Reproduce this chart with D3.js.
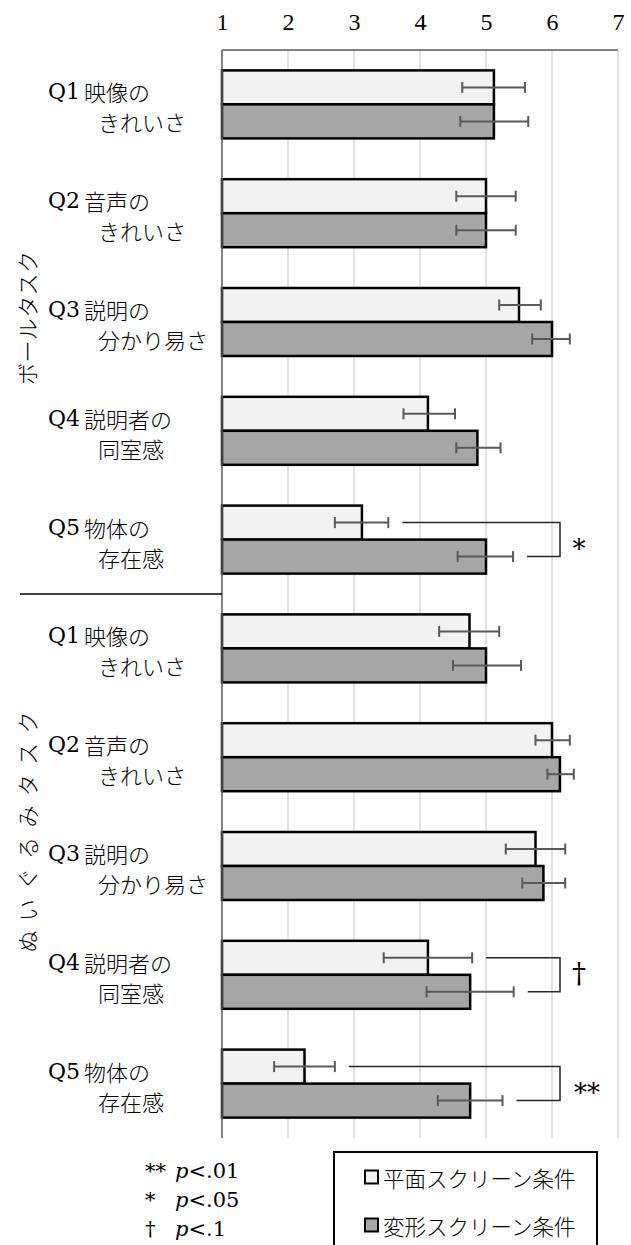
<!DOCTYPE html>
<html>
<head>
<meta charset="utf-8">
<script src="https://cdn.jsdelivr.net/npm/d3@7"></script>
<style>
  body { margin: 0; background: #fff; }
  text { font-family: "Noto Sans CJK JP", sans-serif; fill: #000; }
  .jp { font-weight: 300; }
  .latin { font-family: "DejaVu Serif", serif; font-weight: normal; }
</style>
</head>
<body>
<div id="chart-area"></div>
<script>
const canvas_width = 631;
const canvas_height = 1245;

// data
const tasks = ['ボールタスク', 'ぬいぐるみタスク'];
const question_ids = ['Q1', 'Q2', 'Q3', 'Q4', 'Q5'];
const question_line1 = ['映像の', '音声の', '説明の', '説明者の', '物体の'];
const question_line2 = ['きれいさ', 'きれいさ', '分かり易さ', '同室感', '存在感'];
const series_names = ['平面スクリーン条件', '変形スクリーン条件'];

const flat_mean   = [5.12, 5.0, 5.5, 4.12, 3.12, 4.75, 6.0, 5.75, 4.12, 2.25];
const flat_low    = [4.64, 4.55, 5.2, 3.75, 2.71, 4.29, 5.75, 5.3, 3.45, 1.79];
const flat_high   = [5.59, 5.45, 5.83, 4.53, 3.52, 5.2, 6.27, 6.2, 4.79, 2.71];
const deform_mean = [5.12, 5.0, 6.0, 4.87, 5.0, 5.0, 6.12, 5.87, 4.76, 4.76];
const deform_low  = [4.61, 4.55, 5.7, 4.55, 4.57, 4.5, 5.93, 5.55, 4.1, 4.27];
const deform_high = [5.64, 5.45, 6.27, 5.22, 5.41, 5.53, 6.33, 6.2, 5.42, 5.25];
const sig_labels  = ['', '', '', '', '*', '', '', '', '†', '**'];

const x_ticks = [1, 2, 3, 4, 5, 6, 7];
const note_marks = ['**', '*', '†'];
const note_values = ['.01', '.05', '.1'];

// layout
const plot = { left: 222, right: 618, top: 50, bottom: 1138 };
const colors = { flat: '#f2f2f2', deform: '#a6a6a6', err: '#595959', grid: '#d9d9d9', axis: '#595959' };

let rows = [];
tasks.forEach((t, ti) => {
    question_ids.forEach((q, qi) => {
        let i = ti * question_ids.length + qi;
        rows.push({
            key: 'r' + i, task: t, id: q, line1: question_line1[qi], line2: question_line2[qi], sig: sig_labels[i],
            bars: [
                { series: 'flat', mean: flat_mean[i], low: flat_low[i], high: flat_high[i] },
                { series: 'deform', mean: deform_mean[i], low: deform_low[i], high: deform_high[i] }
            ]
        });
    });
});

let canvas = d3.select('#chart-area').append('svg')
    .attr('width', canvas_width)
    .attr('height', canvas_height)
    .style('background', '#fff');

let x = d3.scaleLinear().domain([1, 7]).range([plot.left, plot.right]);

let y = d3.scaleBand()
    .domain(rows.map((d) => d.key))
    .range([plot.top, plot.bottom])
    .paddingInner(0.375)
    .paddingOuter(0.1875);

let ySeries = d3.scaleBand()
    .domain(['flat', 'deform'])
    .range([0, y.bandwidth()]);

// gridlines
canvas.append('g').selectAll('line')
    .data(x_ticks.slice(1))
    .enter().append('line')
    .attr('x1', (d) => x(d)).attr('x2', (d) => x(d))
    .attr('y1', plot.top).attr('y2', plot.bottom)
    .attr('stroke', colors.grid)
    .attr('stroke-width', 1.5);

// top axis
let topAxis = d3.axisTop(x).tickValues(x_ticks).tickSize(0).tickPadding(20).tickFormat(d3.format('d'));
let topG = canvas.append('g')
    .attr('transform', `translate(0, ${plot.top})`)
    .call(topAxis);
topG.select('.domain').remove();
topG.selectAll('text').attr('font-size', '24px').style('font-family', '"Liberation Serif", serif');

canvas.append('line')
    .attr('x1', plot.left).attr('x2', plot.right)
    .attr('y1', plot.top).attr('y2', plot.top)
    .attr('stroke', colors.axis).attr('stroke-width', 1.5);

// bars
let groups = canvas.append('g').selectAll('g')
    .data(rows)
    .enter().append('g')
    .attr('transform', (d) => `translate(0, ${y(d.key)})`);

groups.selectAll('rect')
    .data((d) => d.bars)
    .enter().append('rect')
    .attr('x', x(1))
    .attr('y', (d) => ySeries(d.series))
    .attr('width', (d) => x(d.mean) - x(1))
    .attr('height', ySeries.bandwidth())
    .attr('fill', (d) => colors[d.series])
    .attr('stroke', '#000')
    .attr('stroke-width', 2.5);

// error bars
let err = groups.selectAll('g.err')
    .data((d) => d.bars)
    .enter().append('g')
    .attr('class', 'err')
    .attr('transform', (d) => `translate(0, ${ySeries(d.series) + ySeries.bandwidth() / 2})`)
    .attr('stroke', colors.err)
    .attr('stroke-width', 2);
err.append('line').attr('x1', (d) => x(d.low)).attr('x2', (d) => x(d.high)).attr('y1', 0).attr('y2', 0);
err.append('line').attr('x1', (d) => x(d.low)).attr('x2', (d) => x(d.low)).attr('y1', -5.5).attr('y2', 5.5);
err.append('line').attr('x1', (d) => x(d.high)).attr('x2', (d) => x(d.high)).attr('y1', -5.5).attr('y2', 5.5);

// left axis line
canvas.append('line')
    .attr('x1', plot.left).attr('x2', plot.left)
    .attr('y1', plot.top).attr('y2', plot.bottom)
    .attr('stroke', colors.axis).attr('stroke-width', 1.5);

// significance brackets
let bracketX = 560;
let sigRows = groups.filter((d) => d.sig !== '');
sigRows.append('path')
    .attr('d', (d) => {
        let y0 = ySeries('flat') + ySeries.bandwidth() / 2;
        let y1 = ySeries('deform') + ySeries.bandwidth() / 2;
        return `M${x(d.bars[0].high) + 14},${y0}H${bracketX}V${y1}H${x(d.bars[1].high) + 14}`;
    })
    .attr('fill', 'none')
    .attr('stroke', '#262626')
    .attr('stroke-width', 1.5);
sigRows.append('text')
    .attr('class', 'latin')
    .attr('x', (d) => d.sig === '**' ? 587 : 579)
    .attr('y', (d) => y.bandwidth() / 2 + (d.sig === '†' ? 8 : 18))
    .attr('text-anchor', 'middle')
    .attr('font-size', (d) => d.sig === '†' ? '28px' : '26px')
    .text((d) => d.sig);

// category labels
let line1 = groups.append('text')
    .attr('x', 48)
    .attr('y', y.bandwidth() / 2 - 13)
    .attr('dominant-baseline', 'central')
    .attr('font-size', '22px');
line1.append('tspan').attr('class', 'latin').text((d) => d.id);
line1.append('tspan').attr('class', 'jp').attr('dx', 4).text((d) => d.line1);
groups.append('text')
    .attr('class', 'jp')
    .attr('x', 98)
    .attr('y', y.bandwidth() / 2 + 17)
    .attr('dominant-baseline', 'central')
    .attr('font-size', '22px')
    .text((d) => d.line2);

// task separator and labels
canvas.append('line')
    .attr('x1', 20).attr('x2', plot.left)
    .attr('y1', y('r5') - y.step() * y.paddingInner() / 2)
    .attr('y2', y('r5') - y.step() * y.paddingInner() / 2)
    .attr('stroke', '#000').attr('stroke-width', 1.5);

const task_label_pos = [{ cy: 318, len: 134 }, { cy: 832, len: 241 }];
canvas.append('g').selectAll('text')
    .data(tasks)
    .enter().append('text')
    .attr('class', 'jp')
    .attr('transform', (d, i) => `translate(26, ${task_label_pos[i].cy}) rotate(-90)`)
    .attr('text-anchor', 'middle')
    .attr('dominant-baseline', 'central')
    .attr('font-size', '22px')
    .attr('textLength', (d, i) => task_label_pos[i].len)
    .attr('lengthAdjust', 'spacing')
    .text((d) => d);

// footnotes
let notes = canvas.append('g').selectAll('g')
    .data(note_marks)
    .enter().append('g')
    .attr('transform', (d, i) => `translate(0, ${1178 + i * 29})`);
notes.append('text').attr('class', 'latin').attr('x', 145).attr('font-size', '21px').text((d) => d);
notes.append('text').attr('class', 'latin').attr('x', 175).attr('font-size', '21px')
    .each(function (d, i) {
        let t = d3.select(this);
        t.append('tspan').attr('font-style', 'italic').text('p');
        t.append('tspan').text('<' + note_values[i]);
    });

// legend
canvas.append('rect')
    .attr('x', 334).attr('y', 1152)
    .attr('width', 263).attr('height', 110)
    .attr('fill', '#fff').attr('stroke', '#000').attr('stroke-width', 2);

let legend = canvas.append('g').selectAll('g')
    .data(series_names)
    .enter().append('g')
    .attr('transform', (d, i) => `translate(365, ${1177 + i * 48})`);
legend.append('rect')
    .attr('x', 0).attr('y', -6.5)
    .attr('width', 13).attr('height', 13)
    .attr('fill', (d, i) => i === 0 ? colors.flat : colors.deform)
    .attr('stroke', '#000').attr('stroke-width', 2);
legend.append('text')
    .attr('class', 'jp')
    .attr('x', 18).attr('y', 0)
    .attr('dominant-baseline', 'central')
    .attr('font-size', '21.5px')
    .text((d) => d);
</script>
</body>
</html>
